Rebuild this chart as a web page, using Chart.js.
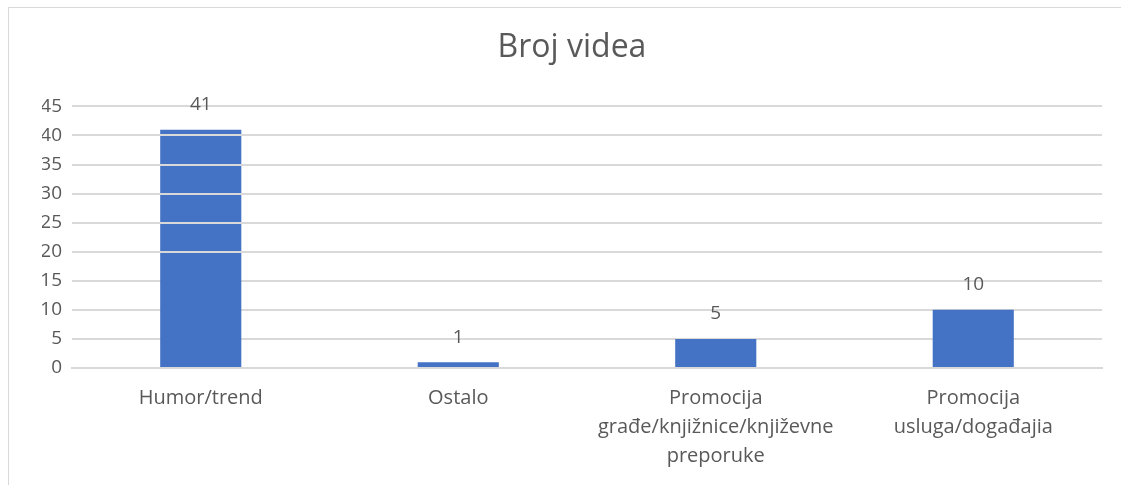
<!DOCTYPE html>
<html>
<head>
<meta charset="utf-8">
<script src="https://cdn.jsdelivr.net/npm/chart.js@4.4.1/dist/chart.umd.min.js"></script>
<style>
  html, body { margin: 0; padding: 0; background: #fff; }
  #wrap { position: relative; width: 1121px; height: 485px; }
  #frame { position: absolute; left: 8px; top: 7px; right: 0; bottom: 0; border-top: 1px solid #d9d9d9; border-left: 1px solid #d9d9d9; pointer-events: none; }
  canvas { position: absolute; left: 0; top: 0; }
</style>
</head>
<body>
<div id="wrap">
  <canvas id="c" width="1121" height="485"></canvas>
  <div id="frame"></div>
</div>
<script>
const chartTitle = 'Broj videa';
const categories = [
  ['Humor/trend'],
  ['Ostalo'],
  ['Promocija', 'građe/knjižnice/književne', 'preporuke'],
  ['Promocija', 'usluga/događajia']
];
const values = [41, 1, 5, 10];
const yMax = 45;
const yStep = 5;

const textColor = '#595959';
const gridColor = '#d9d9d9';
const barColor = '#4472C4';
const fontFamily = '"Open Sans", "Noto Sans", sans-serif';

const dataLabels = {
  id: 'dataLabels',
  afterDraw(chart) {
    const ctx = chart.ctx;
    const meta = chart.getDatasetMeta(0);
    ctx.save();
    ctx.fillStyle = textColor;
    ctx.font = '19px ' + fontFamily;
    ctx.textAlign = 'center';
    ctx.textBaseline = 'middle';
    meta.data.forEach((bar, i) => {
      ctx.fillText(String(chart.data.datasets[0].data[i]), bar.x, bar.y - 25);
    });
    ctx.restore();
  }
};

new Chart(document.getElementById('c'), {
  type: 'bar',
  data: {
    labels: categories,
    datasets: [{
      data: values,
      backgroundColor: barColor,
      borderWidth: 0,
      categoryPercentage: 1,
      barPercentage: 0.315,
      yAxisID: 'y'
    }]
  },
  options: {
    responsive: false,
    animation: false,
    devicePixelRatio: 1,
    layout: { padding: { left: 42, right: 19, top: 0, bottom: 0 } },
    plugins: {
      legend: { display: false },
      tooltip: { enabled: false },
      title: {
        display: true,
        text: chartTitle,
        color: textColor,
        font: { family: fontFamily, size: 32, weight: 'normal', lineHeight: 1.2 },
        padding: { top: 29, bottom: 39 }
      }
    },
    scales: {
      x: {
        z: 1,
        grid: { display: false, drawTicks: false },
        border: { display: true, color: gridColor, width: 2, z: 1 },
        ticks: {
          color: textColor,
          font: { family: fontFamily, size: 20, lineHeight: 1.45 },
          padding: 16,
          maxRotation: 0,
          autoSkip: false
        },
        afterFit(scale) { scale.height = 117; }
      },
      y: {
        min: 0,
        max: yMax,
        grid: { color: gridColor, lineWidth: 2, drawTicks: false, z: -1 },
        border: { display: false },
        ticks: {
          stepSize: yStep,
          color: textColor,
          font: { family: fontFamily, size: 19 },
          padding: 10
        },
        afterFit(scale) { scale.width = 30; }
      },
      yOver: {
        position: 'left',
        min: 0,
        max: yMax,
        grid: {
          drawTicks: false,
          lineWidth: 2,
          z: 1,
          color: (c) => (c.tick && c.tick.value >= 20 ? gridColor : 'rgba(0,0,0,0)')
        },
        border: { display: false },
        ticks: { stepSize: yStep, display: false },
        afterFit(scale) { scale.width = 0; }
      }
    }
  },
  plugins: [dataLabels]
});
</script>
</body>
</html>
